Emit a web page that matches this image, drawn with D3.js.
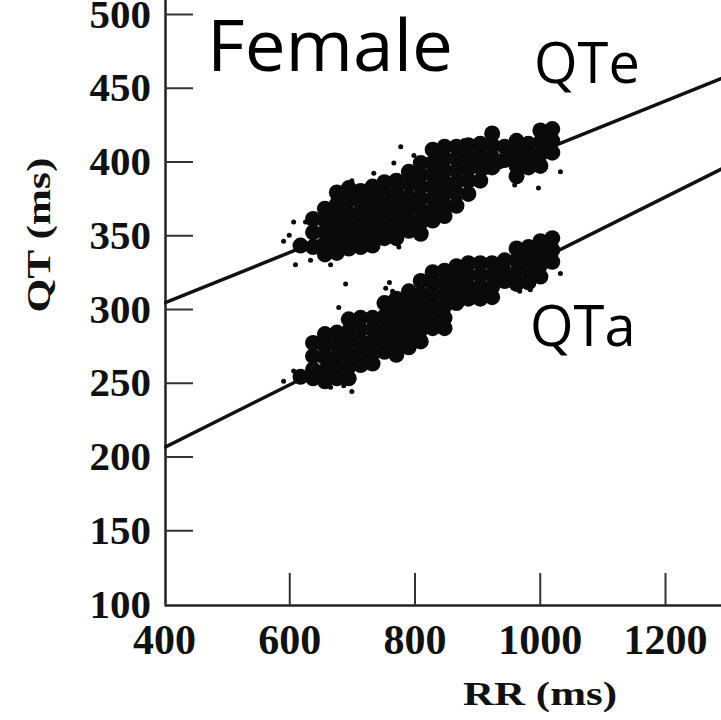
<!DOCTYPE html>
<html>
<head>
<meta charset="utf-8">
<script src="https://cdn.jsdelivr.net/npm/d3@7"></script>
<style>
  html, body { margin: 0; padding: 0; background: #fff; }
  svg { display: block; }
</style>
</head>
<body>
<div id="chart"></div>
<script>
// ---- data (RR ms, QT ms) ----
const xTicks = [400, 600, 800, 1000, 1200];
const yTicks = [100, 150, 200, 250, 300, 350, 400, 450, 500];

const qteLine = [[400, 304], [1300, 458]];
const qtaLine = [[400, 206], [1300, 397]];

const qteCore = [
  [618,343],
  [638,361],[638,352],[638,342],
  [657,368],[657,360],[657,352],[657,344],[657,337],
  [676,379],[676,371],[676,363],[676,355],[676,346],[676,338],
  [695,382],[695,374],[695,365],[695,357],[695,349],[695,341],
  [714,380],[714,372],[714,364],[714,356],[714,348],[714,342],
  [733,383],[733,375],[733,367],[733,359],[733,351],[733,343],
  [752,386],[752,378],[752,370],[752,362],[752,354],[752,348],
  [771,387],[771,379],[771,371],[771,363],[771,355],[771,348],
  [791,393],[791,385],[791,376],[791,368],[791,360],[791,353],
  [810,399],[810,391],[810,383],[810,375],[810,367],[810,359],[810,351],
  [829,408],[829,399],[829,391],[829,383],[829,375],[829,367],[829,360],
  [848,410],[848,402],[848,394],[848,386],[848,378],[848,370],[848,363],
  [867,410],[867,402],[867,394],[867,386],[867,378],[867,370],
  [886,411],[886,403],[886,395],[886,387],[886,378],
  [905,412],[905,404],[905,396],[905,387],
  [924,419],[924,411],[924,403],[924,396],
  [944,410],[944,401],
  [963,414],[963,406],[963,397],[963,390],
  [982,412],[982,404],[982,396],
  [1001,421],[1001,413],[1001,405],[1001,397],
  [1020,422],[1020,414],[1020,406]
];
const qteSparse = [
  [591,346],[607,359],[626,359],[610,330],[634,333],[666,330],
  [767,399],[799,404],[730,341],[775,342],[778,410],[735,392],
  [998,382],[1033,393],[878,414],[600,350],[700,387],[960,384]
];

const qtaCore = [
  [618,254],
  [638,277],[638,268],[638,259],[638,253],
  [657,283],[657,275],[657,267],[657,258],[657,251],
  [676,284],[676,276],[676,268],[676,260],[676,253],
  [695,293],[695,285],[695,277],[695,269],[695,261],[695,253],
  [714,294],[714,286],[714,278],[714,270],[714,262],
  [733,294],[733,286],[733,278],[733,270],[733,263],
  [752,304],[752,295],[752,287],[752,279],[752,271],
  [771,307],[771,299],[771,291],[771,283],[771,275],[771,269],
  [791,312],[791,304],[791,296],[791,288],[791,280],[791,274],
  [810,319],[810,310],[810,302],[810,294],[810,286],[810,278],
  [829,325],[829,317],[829,309],[829,301],[829,293],[829,287],
  [848,326],[848,318],[848,310],[848,302],[848,294],[848,287],
  [867,329],[867,321],[867,312],[867,304],
  [886,331],[886,323],[886,315],[886,307],
  [905,331],[905,323],[905,315],[905,307],
  [924,331],[924,323],[924,315],[924,308],
  [944,333],[944,325],[944,319],
  [963,341],[963,333],[963,325],[963,317],
  [982,342],[982,334],[982,326],[982,318],
  [1001,346],[1001,338],[1001,330],[1001,322],
  [1020,348],[1020,340],[1020,332]
];
const qtaSparse = [
  [690,317],[679,301],[666,247],[687,248],[754,314],[591,251],
  [607,258],[623,256],[765,312],[760,318],[968,312],[985,313],
  [1033,324],[700,244]
];

// ---- layout ----
const W = 721, H = 720;
const svg = d3.select("#chart").append("svg")
  .attr("width", W).attr("height", H)
  .style("background", "#fff");

const x = d3.scaleLinear().domain([400, 1300]).range([164, 164 + 900 * (501 / 800)]);
const y = d3.scaleLinear().domain([100, 510]).range([604, 604 - 410 * (590 / 400)]);

const serif = "'Liberation Serif', 'Times New Roman', serif";
const sans = "'Open Sans', 'Noto Sans', sans-serif";

// clip
svg.append("defs").append("clipPath").attr("id", "clip")
  .append("rect").attr("x", 164).attr("y", 0).attr("width", W - 164).attr("height", 604);

// axes
const yAxis = d3.axisLeft(y).tickValues(yTicks).tickSize(-28).tickSizeOuter(0).tickPadding(14).tickFormat(d3.format("d"));
const gy = svg.append("g").attr("transform", "translate(165,0)").call(yAxis);
gy.select(".domain").attr("stroke", "#222").attr("stroke-width", 2.5);
gy.selectAll(".tick line").attr("stroke", "#333").attr("stroke-width", 2);
gy.selectAll(".tick").filter(d => d === 100).select("line").remove();
gy.selectAll(".tick text").attr("font-family", serif).attr("font-weight", "bold")
  .attr("font-size", 41).attr("fill", "#111");

const xAxis = d3.axisBottom(x).tickValues(xTicks).tickSize(-32).tickSizeOuter(0).tickPadding(19).tickFormat(d3.format("d"));
const gx = svg.append("g").attr("transform", "translate(0,605)").call(xAxis);
gx.select(".domain").attr("stroke", "#222").attr("stroke-width", 2.5);
gx.selectAll(".tick line").attr("stroke", "#333").attr("stroke-width", 2);
gx.selectAll(".tick").filter(d => d === 400).select("line").remove();
gx.selectAll(".tick text").attr("font-family", serif).attr("font-weight", "bold")
  .attr("font-size", 42).attr("fill", "#111");

// axis titles
svg.append("text").attr("x", 540).attr("y", 705).attr("text-anchor", "middle")
  .attr("font-family", serif).attr("font-weight", "bold").attr("font-size", 33)
  .attr("textLength", 154).attr("lengthAdjust", "spacingAndGlyphs")
  .attr("fill", "#111").text("RR (ms)");
svg.append("text").attr("transform", "translate(50,235) rotate(-90)").attr("text-anchor", "middle")
  .attr("font-family", serif).attr("font-weight", "bold").attr("font-size", 33)
  .attr("textLength", 155).attr("lengthAdjust", "spacingAndGlyphs")
  .attr("fill", "#111").text("QT (ms)");

// plot
const plot = svg.append("g").attr("clip-path", "url(#clip)");
const line = d3.line().x(d => x(d[0])).y(d => y(d[1]));

[qteLine, qtaLine].forEach(l => {
  plot.append("path").datum(l).attr("d", line)
    .attr("fill", "none").attr("stroke", "#111").attr("stroke-width", 3.5);
});

const dotColor = "#0a0a0a";
[qteCore, qtaCore].forEach(s => {
  plot.append("g").selectAll("circle").data(s).join("circle")
    .attr("cx", d => x(d[0])).attr("cy", d => y(d[1])).attr("r", 8)
    .attr("fill", dotColor);
});
[qteSparse, qtaSparse].forEach(s => {
  plot.append("g").selectAll("circle").data(s).join("circle")
    .attr("cx", d => x(d[0])).attr("cy", d => y(d[1])).attr("r", 2.5)
    .attr("fill", dotColor);
});

// annotations
svg.append("text").attr("x", 207).attr("y", 71)
  .attr("font-family", sans).attr("font-size", 72).attr("fill", "#000")
  .attr("textLength", 246).attr("lengthAdjust", "spacingAndGlyphs").text("Female");
svg.append("text").attr("x", 534).attr("y", 83)
  .attr("font-family", sans).attr("font-size", 56).attr("fill", "#000").text("QTe");
svg.append("text").attr("x", 530).attr("y", 346)
  .attr("font-family", sans).attr("font-size", 56).attr("fill", "#000").text("QTa");
</script>
</body>
</html>
